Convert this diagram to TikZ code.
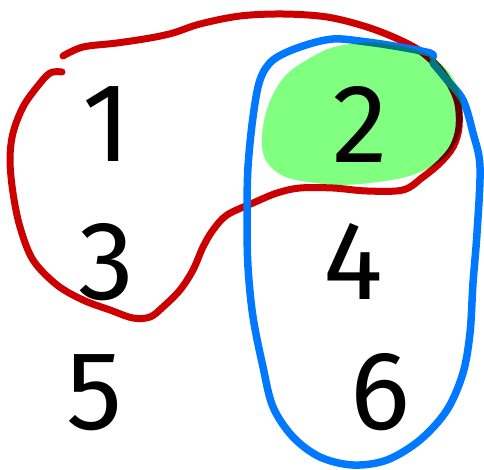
\documentclass[tikz,border=0pt]{standalone}
\usepackage{fontspec}
\setmainfont{Fira Sans}
\definecolor{penred}{HTML}{CC0000}
\definecolor{penblue}{HTML}{0078FF}
\definecolor{hlgreen}{HTML}{80FF80}
\begin{document}
\begin{tikzpicture}[x=1pt,y=-1pt,
  digit/.style={font=\fontsize{112}{112}\selectfont, text=black, inner sep=0pt},
  redpen/.style={draw=penred, line width=7pt, line cap=round, line join=round},
  bluepen/.style={draw=penblue, line width=7.5pt, line cap=round, line join=round}]
\useasboundingbox (0,0) rectangle (484,470);
% digits
\node[digit] (n1) at (107,124) {1};
\node[digit] (n2) at (360,124) {2};
\node[digit] (n3) at (106,262) {3};
\node[digit] (n4) at (353,261) {4};
\node[digit] (n5) at (95,393) {5};
\node[digit] (n6) at (380,392) {6};
% red loop
\draw[redpen] plot[smooth, tension=0.55] coordinates {
 (63,56) (83,47) (117,43) (150,38) (173,33) (200,24) (240,16) (283,14) (327,17)
 (367,27) (400,40) (423,53) (443,73) (457,100) (459,127) (453,147) (440,163)
 (423,177) (403,190) (367,191) (333,188) (300,188) (277,193) (253,203) (227,215)
 (213,230) (203,247) (193,270) (180,290) (163,307) (150,317) (133,318) (110,310)
 (83,300) (57,285) (33,260) (20,227) (13,193) (10,160) (13,133) (23,107) (37,87)
 (50,73) (62,72)};
% blue loop
\draw[bluepen] plot[smooth, tension=0.55] coordinates {
 (433,57) (430,53) (400,47) (367,42) (333,39) (300,47) (273,60) (260,80) (253,117)
 (248,167) (247,217) (248,267) (253,317) (263,367) (273,407) (293,437) (320,457)
 (353,465) (387,460) (420,440) (447,410) (463,373) (470,333) (473,283) (477,233)
 (480,167) (473,133) (463,100) (447,80) (433,63)};
% green highlight (multiply)
\begin{scope}[blend mode=multiply]
\fill[hlgreen] plot[smooth cycle, tension=0.7] coordinates {
 (262,137) (277,87) (310,58) (350,44) (400,46) (440,63) (461,100) (456,142)
 (425,170) (370,183) (315,183) (274,170)};
\end{scope}
\end{tikzpicture}
\end{document}
